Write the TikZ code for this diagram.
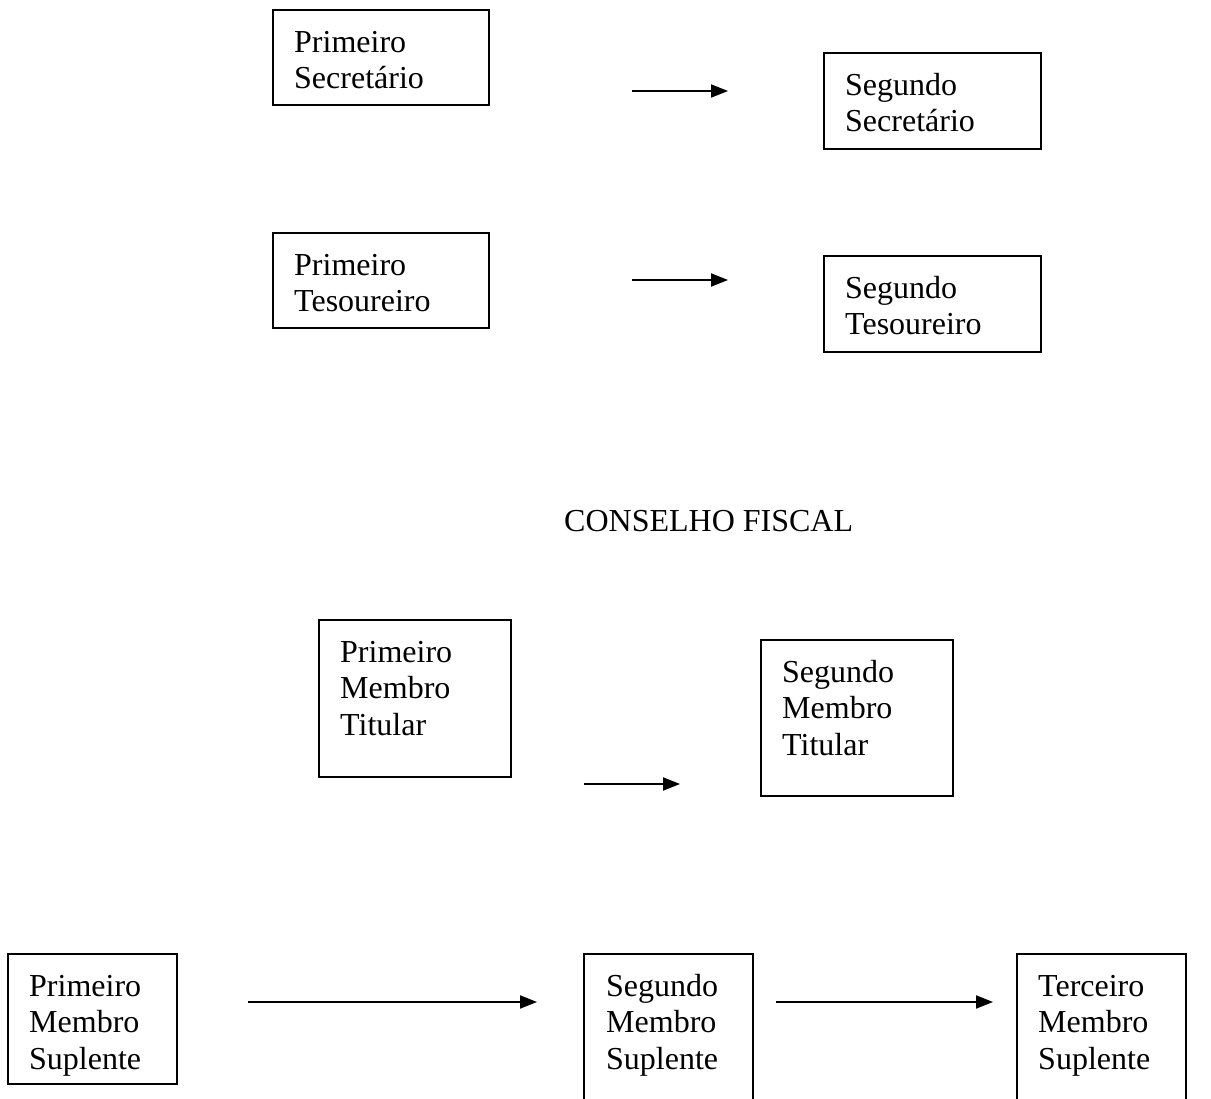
\documentclass[tikz,border=0pt]{standalone}
\usepackage{fontspec}
\setmainfont{Liberation Serif}
\usetikzlibrary{arrows.meta}
\begin{document}
\begin{tikzpicture}[x=1pt,y=-1pt,
  box/.style={draw=black,line width=2pt,inner sep=0pt},
  txt/.style={anchor=base west,align=left,inner sep=0pt,font=\fontsize{32}{36.7}\selectfont},
  arr/.style={line width=2pt,-{Triangle[length=17pt,width=13pt]}}]
\useasboundingbox (0,0) rectangle (1211,1099);
\clip (0,0) rectangle (1211,1099);
% boxes
\draw[box] (273,10) rectangle (489,105);
\draw[box] (824,53) rectangle (1041,149);
\draw[box] (273,233) rectangle (489,328);
\draw[box] (824,256) rectangle (1041,352);
\draw[box] (319,620) rectangle (511,777);
\draw[box] (761,640) rectangle (953,796);
\draw[box] (8,954) rectangle (177,1084);
\draw[box] (584,1120) -- (584,954) -- (753,954) -- (753,1120);
\draw[box] (1017,1120) -- (1017,954) -- (1186,954) -- (1186,1120);
% texts (anchor at baseline of last line)
\node[txt] (ps) at (294,89) {Primeiro\\Secretário};
\node[txt] (ss) at (845,132) {Segundo\\Secretário};
\node[txt] (pt) at (294,312) {Primeiro\\Tesoureiro};
\node[txt] (st) at (845,335) {Segundo\\Tesoureiro};
\node[txt] (cf) at (564,531) {CONSELHO FISCAL};
\node[txt] (pmt) at (340,735.5) {Primeiro\\Membro\\Titular};
\node[txt] (smt) at (782,755.5) {Segundo\\Membro\\Titular};
\node[txt] (pms) at (29,1069.5) {Primeiro\\Membro\\Suplente};
\node[txt] (sms) at (606,1069.5) {Segundo\\Membro\\Suplente};
\node[txt] (tms) at (1038,1069.5) {Terceiro\\Membro\\Suplente};
% arrows
\coordinate (a1s) at (632,91);  \coordinate (a1e) at (728,91);
\coordinate (a2s) at (632,280); \coordinate (a2e) at (728,280);
\coordinate (a3s) at (584,784); \coordinate (a3e) at (680,784);
\coordinate (a4s) at (248,1002); \coordinate (a4e) at (537,1002);
\coordinate (a5s) at (776,1002); \coordinate (a5e) at (993,1002);
\draw[arr] (a1s) -- (a1e);
\draw[arr] (a2s) -- (a2e);
\draw[arr] (a3s) -- (a3e);
\draw[arr] (a4s) -- (a4e);
\draw[arr] (a5s) -- (a5e);
\end{tikzpicture}
\end{document}
